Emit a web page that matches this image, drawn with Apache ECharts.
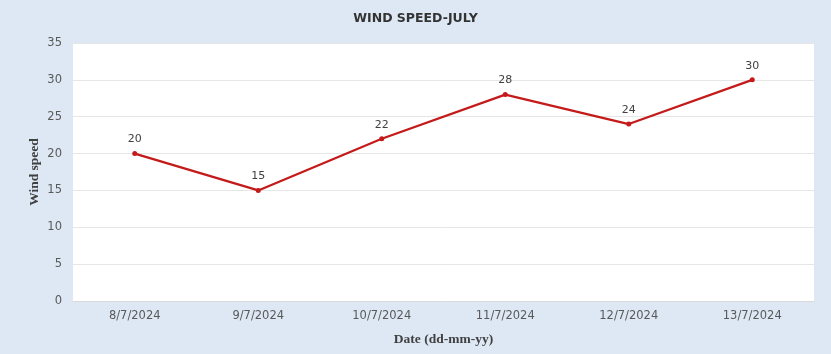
<!DOCTYPE html>
<html><head><meta charset="utf-8">
<script src="https://cdn.jsdelivr.net/npm/echarts@6/dist/echarts.min.js"></script>
<style>html,body{margin:0;padding:0;background:#dde8f4;}#c{width:831px;height:354px;}</style>
</head><body><div id="c"></div>
<script>
const categories = ["8/7/2024","9/7/2024","10/7/2024","11/7/2024","12/7/2024","13/7/2024"];
const windSpeed = [20, 15, 22, 28, 24, 30];
const yTicks = {min: 0, max: 35, interval: 5};

const chart = echarts.init(document.getElementById('c'), null, {renderer: 'canvas'});
chart.setOption({
  backgroundColor: '#dde8f4',
  animation: false,
  title: {
    text: 'WIND SPEED-JULY', left: 'center', top: 7,
    textStyle: {fontFamily: 'DejaVu Sans', fontSize: 12.5, fontWeight: 'bold', color: '#333'}
  },
  grid: {left: 73, right: 17, top: 43, bottom: 53, show: true, backgroundColor: '#ffffff', borderWidth: 0},
  xAxis: {
    type: 'category', data: categories, boundaryGap: true,
    name: 'Date (dd-mm-yy)', nameLocation: 'middle', nameGap: 32,
    nameTextStyle: {fontFamily: 'Liberation Serif', fontWeight: 'bold', fontSize: 13.5, color: '#404040'},
    axisLine: {lineStyle: {color: '#d9d9d9'}},
    axisTick: {show: false},
    axisLabel: {color: '#595959', fontFamily: 'DejaVu Sans', fontSize: 11.5, margin: 9}
  },
  yAxis: {
    type: 'value', min: yTicks.min, max: yTicks.max, interval: yTicks.interval,
    name: 'Wind speed', nameLocation: 'middle', nameGap: 31, nameMoveOverlap: false,
    nameTextStyle: {fontFamily: 'Liberation Serif', fontWeight: 'bold', fontSize: 13.5, color: '#404040'},
    axisLine: {show: false}, axisTick: {show: false},
    splitLine: {lineStyle: {color: '#e6e6e6'}},
    axisLabel: {color: '#595959', fontFamily: 'DejaVu Sans', fontSize: 11.5, margin: 11}
  },
  series: [{
    type: 'line', data: windSpeed,
    lineStyle: {color: '#c41a1a', width: 2.2},
    itemStyle: {color: '#c41a1a'},
    symbol: 'circle', symbolSize: 5,
    label: {show: true, position: 'top', distance: 6, color: '#404040', fontFamily: 'DejaVu Sans', fontSize: 11}
  }]
});
</script></body></html>
